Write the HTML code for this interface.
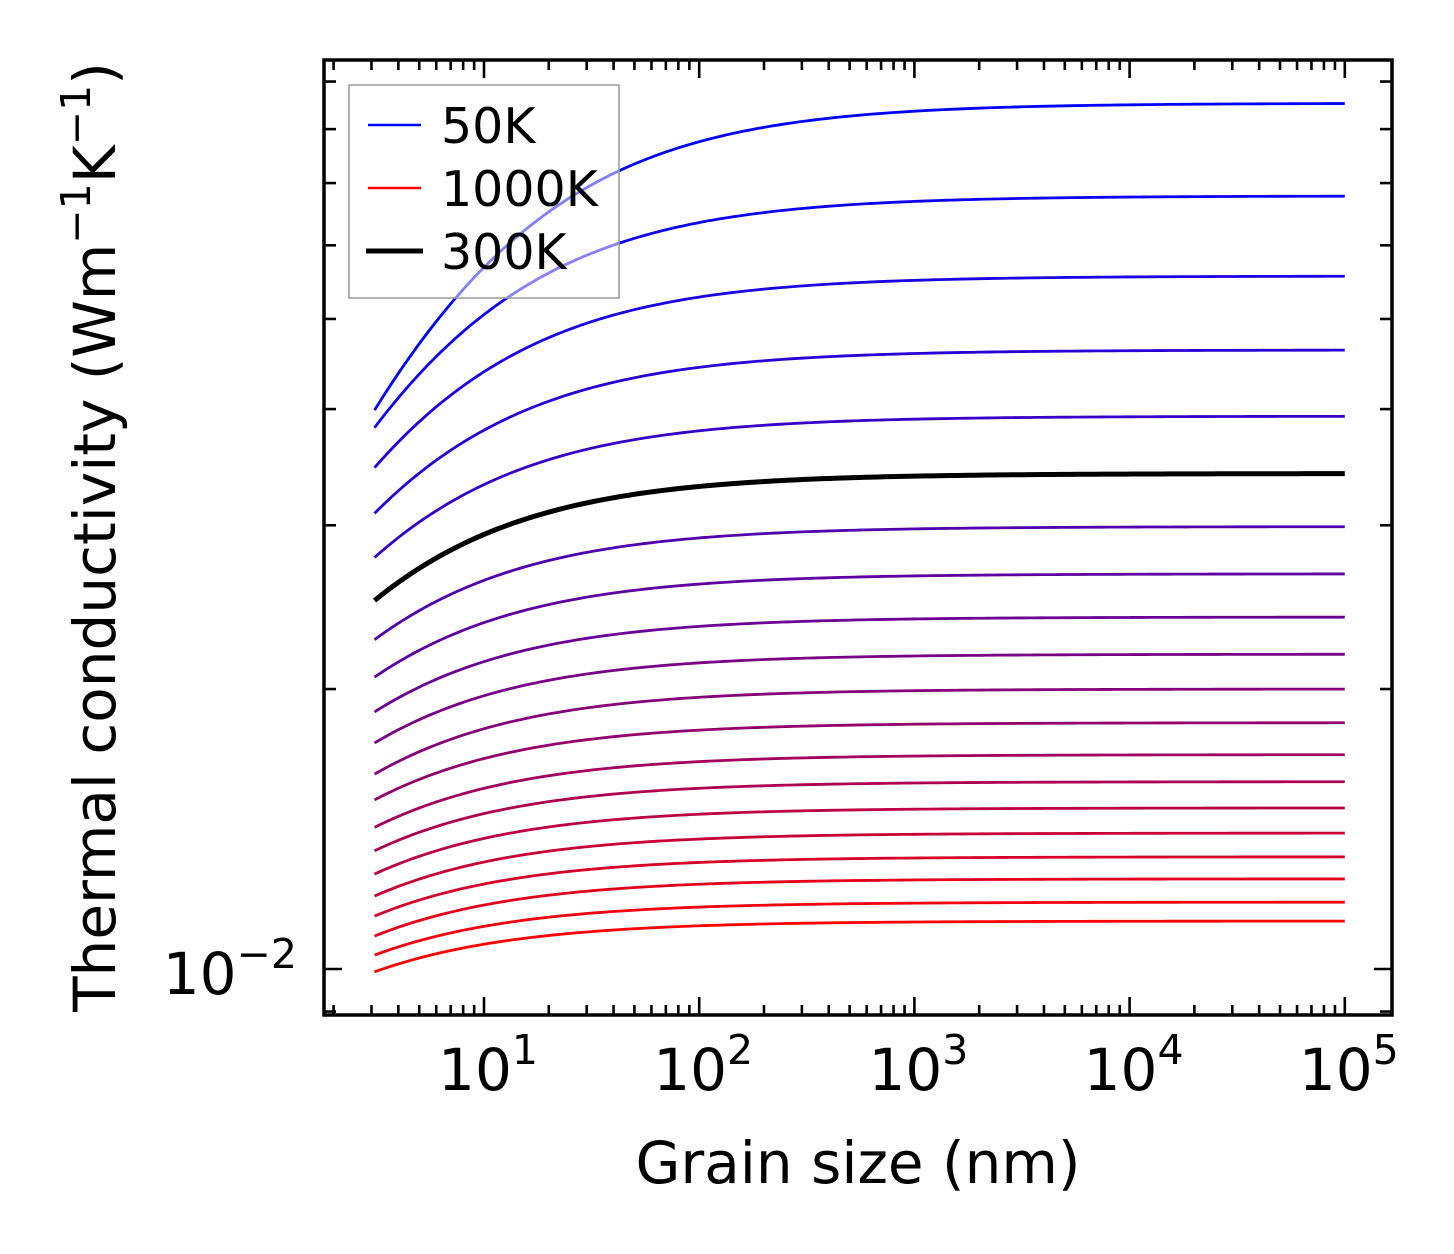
<!DOCTYPE html>
<html><head><meta charset="utf-8"><style>
html,body{margin:0;padding:0;background:#fff;}
svg{display:block;font-family:"DejaVu Sans","Liberation Sans",sans-serif;}
</style></head><body>
<svg id="chart" width="1454" height="1254" viewBox="0 0 1454 1254" xmlns="http://www.w3.org/2000/svg">
<rect width="1454" height="1254" fill="#fff"/>
<g id="curves"></g>
<g id="ticks"></g>
<rect x="324" y="60" width="1068" height="955" fill="none" stroke="#000" stroke-width="3.5"/>
<g id="xlabels" font-size="58" text-anchor="middle"></g>
<text x="297" y="994" font-size="58" text-anchor="end">10<tspan font-size="41" dy="-26">−2</tspan></text>
<text x="858" y="1183" font-size="58" text-anchor="middle">Grain size (nm)</text>
<text transform="translate(115,537) rotate(-90)" font-size="58" text-anchor="middle">Thermal conductivity (Wm<tspan font-size="41" dy="-25">−1</tspan><tspan dy="25">K</tspan><tspan font-size="41" dy="-25">−1</tspan><tspan dy="25">)</tspan></text>
<g>
<rect x="349" y="85" width="270" height="213" fill="#fff" fill-opacity="0.5" stroke="#999" stroke-width="1.5"/>
<line x1="368" y1="125" x2="421" y2="125" stroke="#0000ff" stroke-width="2.5"/>
<text x="441" y="143" font-size="49">50K</text>
<line x1="368" y1="188" x2="421" y2="188" stroke="#ff0000" stroke-width="2.5"/>
<text x="441" y="206" font-size="49">1000K</text>
<line x1="366" y1="251" x2="423" y2="251" stroke="#000" stroke-width="5"/>
<text x="441" y="269" font-size="49">300K</text>
</g>
</svg>
<script>
// temperatures (K)
const temperatures = [50,100,150,200,250,300,350,400,450,500,550,600,650,700,750,800,850,900,950,1000];
// conductivity at large grain size (W/mK)
const kBulk = [0.0853,0.0678,0.0556,0.0463,0.0393,0.0341,0.0299,0.0266,0.0239,0.0218,0.0200,0.0184,0.0170,0.0159,0.0149,0.0140,0.0132,0.0125,0.0118,0.01126];
// conductivity at smallest grain size (W/mK)
const kSmall = [0.0399,0.0382,0.0346,0.0309,0.0277,0.0249,0.0226,0.0206,0.0189,0.0175,0.0162,0.0152,0.0142,0.0134,0.01265,0.01198,0.0114,0.01085,0.01035,0.00993];
const grainMin = 3.1, grainMax = 1e5;
const xTickLabels = ["1","2","3","4","5"];

const NS = "http://www.w3.org/2000/svg";
function xs(L){ return 484 + 215.2*(Math.log10(L) - 1); }
function ys(k){ return 969 - 930*Math.log10(k/0.01); }
const X0=324, X1=1392, Y0=60, Y1=1015;

const curves = document.getElementById('curves');
const p = 0.7;
temperatures.forEach((T,i)=>{
  const kinf = kBulk[i], k0 = kSmall[i];
  const c = (kinf/k0 - 1);
  let d = "";
  const N = 160;
  for(let j=0;j<=N;j++){
    const L = grainMin*Math.pow(grainMax/grainMin, j/N);
    const k = kinf/(1 + c*Math.pow(grainMin/L, p));
    d += (j?"L":"M") + xs(L).toFixed(2) + " " + ys(k).toFixed(2);
  }
  const path = document.createElementNS(NS,'path');
  
  
  const t = i/(temperatures.length-1);
  const col = T===300 ? '#000' : `rgb(${Math.round(255*t)},0,${Math.round(255*(1-t))})`;
  path.setAttribute('d', d);
  path.setAttribute('fill', 'none');
  path.setAttribute('stroke', col);
  path.setAttribute('stroke-width', T===300 ? 5 : 2.8);
  curves.appendChild(path);
});

const ticks = document.getElementById('ticks');
function tick(x1,y1,x2,y2){
  const l = document.createElementNS(NS,'line');
  
  
  l.setAttribute('x1',x1); l.setAttribute('y1',y1); l.setAttribute('x2',x2); l.setAttribute('y2',y2);
  l.setAttribute('stroke','#000'); l.setAttribute('stroke-width','2.6');
  ticks.appendChild(l);
}
for(let e=0;e<=5;e++){
  for(let m=1;m<=9;m++){
    const x = xs(m*Math.pow(10,e));
    if(x<X0+2||x>X1-2) continue;
    const len = m===1 ? 18 : 10;
    tick(x,Y1,x,Y1-len); tick(x,Y0,x,Y0+len);
  }
}
for(let m=1;m<=9;m++){
  [0.001,0.01].forEach(b=>{
    const y = ys(m*b);
    if(y<Y0+2||y>Y1-2) return;
    const len = (m===1&&b===0.01) ? 18 : 12;
    tick(X0,y,X0+len,y); tick(X1,y,X1-len,y);
  });
}
const xl = document.getElementById('xlabels');
xTickLabels.forEach((s,i)=>{
  const tx = document.createElementNS(NS,'text');
  
  
  tx.setAttribute('x', xs(Math.pow(10, Number(s))) + 4);
  tx.setAttribute('y', 1090);
  tx.innerHTML = '10<tspan font-size="41" dy="-26">' + s + '</tspan>';
  xl.appendChild(tx);
});
</script>
</body></html>
